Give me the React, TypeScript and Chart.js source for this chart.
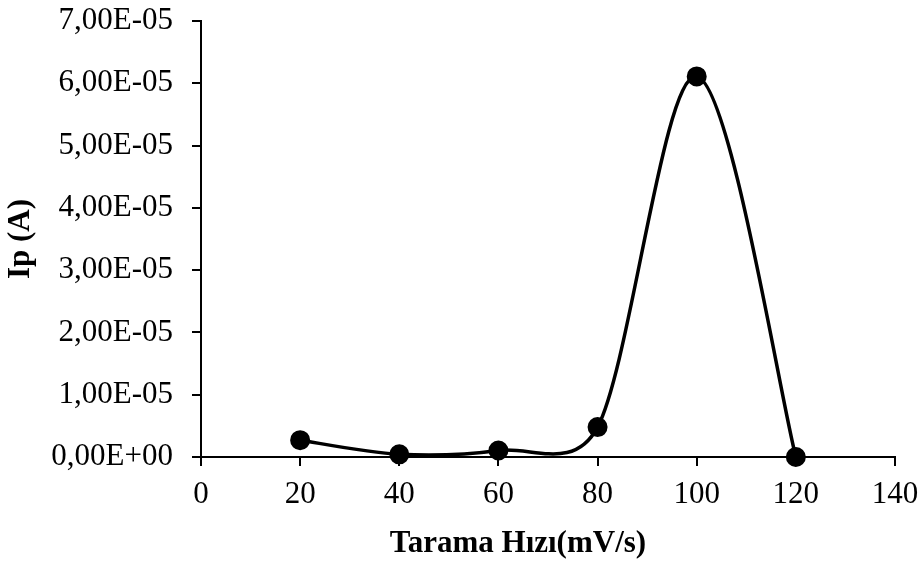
import React, { useEffect, useRef } from "react";
import { Chart, registerables } from "chart.js";

Chart.register(...registerables);

const scanRates = [20, 40, 60, 80, 100, 120];
const peakCurrents = [2.7e-6, 4.3e-7, 1.05e-6, 4.8e-6, 6.11e-5, 0];
const xTitle = "Tarama Hızı(mV/s)";
const yTitle = "Ip (A)";

function formatSci(v: number): string {
  if (Math.abs(v) < 1e-12) return "0,00E+00";
  const [m, e] = v.toExponential(2).split("e");
  const exp = parseInt(e, 10);
  const sign = exp < 0 ? "-" : "+";
  const expStr = String(Math.abs(exp)).padStart(2, "0");
  return m.replace(".", ",") + "E" + sign + expStr;
}

const FONT = "'Liberation Serif', 'Times New Roman', serif";

// Excel-like smoothed line: Catmull-Rom tangents (1/6), handles limited to half the adjacent segment.
const excelSmooth = {
  id: "excelSmooth",
  beforeDatasetsDraw(chart: any) {
    const meta = chart.getDatasetMeta(0);
    const line = meta.dataset;
    const pts = meta.data;
    if (!line || !pts || pts.length < 2) return;
    if (typeof line.updateControlPoints === "function") {
      line.updateControlPoints(chart.chartArea, "x");
    }
    const n = pts.length;
    for (let i = 0; i < n; i++) {
      const p = pts[i];
      const prev = pts[Math.max(0, i - 1)];
      const next = pts[Math.min(n - 1, i + 1)];
      const dx = next.x - prev.x;
      const dy = next.y - prev.y;
      const len = Math.hypot(dx, dy) || 1;
      const a = Math.hypot(p.x - prev.x, p.y - prev.y);
      const b = Math.hypot(next.x - p.x, next.y - p.y);
      const base = len / 6;
      const hPrev = Math.min(base, a / 2);
      const hNext = Math.min(base, b / 2);
      const ux = dx / len;
      const uy = dy / len;
      p.cp1x = p.x - ux * hPrev;
      p.cp1y = p.y - uy * hPrev;
      p.cp2x = p.x + ux * hNext;
      p.cp2y = p.y + uy * hNext;
    }
    line._pointsUpdated = true;
    line._path = undefined;
  },
};

const xTitlePlugin = {
  id: "xTitleDraw",
  afterDraw(chart: any) {
    const xs = chart.scales.x;
    const ctx = chart.ctx;
    ctx.save();
    ctx.font = "bold 31px " + FONT;
    ctx.fillStyle = "#000";
    ctx.textAlign = "center";
    ctx.textBaseline = "middle";
    ctx.fillText(xTitle, (xs.left + xs.right) / 2 - 30, xs.bottom - 19);
    ctx.restore();
  },
};

export default function App() {
  const ref = useRef<HTMLCanvasElement | null>(null);

  useEffect(() => {
    if (!ref.current) return;
    const chart = new Chart(ref.current, {
      type: "line",
      data: {
        datasets: [
          {
            data: scanRates.map((x, i) => ({ x, y: peakCurrents[i] })),
            borderColor: "#000",
            backgroundColor: "#000",
            borderWidth: 3.5,
            tension: 0.3,
            pointRadius: 9,
            pointBorderWidth: 2,
            pointBackgroundColor: "#000",
            pointBorderColor: "#000",
            clip: false as any,
          },
        ],
      },
      options: {
        animation: false,
        responsive: false,
        layout: { padding: 0 },
        plugins: { legend: { display: false }, tooltip: { enabled: false } },
        scales: {
          x: {
            type: "linear",
            min: 0,
            max: 140,
            ticks: {
              stepSize: 20,
              color: "#000",
              font: { family: FONT, size: 31 },
              padding: 10,
              maxRotation: 0,
            },
            grid: {
              display: true,
              drawOnChartArea: false,
              drawTicks: true,
              tickLength: 9,
              color: "#000",
              lineWidth: 2,
            },
            border: { display: true, color: "#000", width: 2 },
            afterFit: (s: any) => {
              s.height = 106;
              s.paddingRight = 29;
              s.paddingLeft = 0;
            },
          },
          y: {
            type: "linear",
            min: 0,
            max: 7e-5,
            ticks: {
              stepSize: 1e-5,
              color: "#000",
              font: { family: FONT, size: 31 },
              padding: 19,
              callback: (v: any) => formatSci(Number(v)),
            },
            grid: {
              display: true,
              drawOnChartArea: false,
              drawTicks: true,
              tickLength: 9,
              color: "#000",
              lineWidth: 2,
            },
            border: { display: true, color: "#000", width: 2 },
            title: {
              display: true,
              text: yTitle,
              color: "#000",
              font: { family: FONT, size: 31, weight: "bold" },
              padding: { top: 2, bottom: 0 },
            },
            afterFit: (s: any) => {
              s.width = 201;
              s.paddingTop = 21;
              s.paddingBottom = 0;
            },
          },
        },
      },
      plugins: [excelSmooth, xTitlePlugin],
    });
    return () => chart.destroy();
  }, []);

  return (
    <div style={{ position: "absolute", left: 0, top: 0, width: 924, height: 563, background: "#fff" }}>
      <canvas ref={ref} width={924} height={563} style={{ display: "block" }} />
    </div>
  );
}
